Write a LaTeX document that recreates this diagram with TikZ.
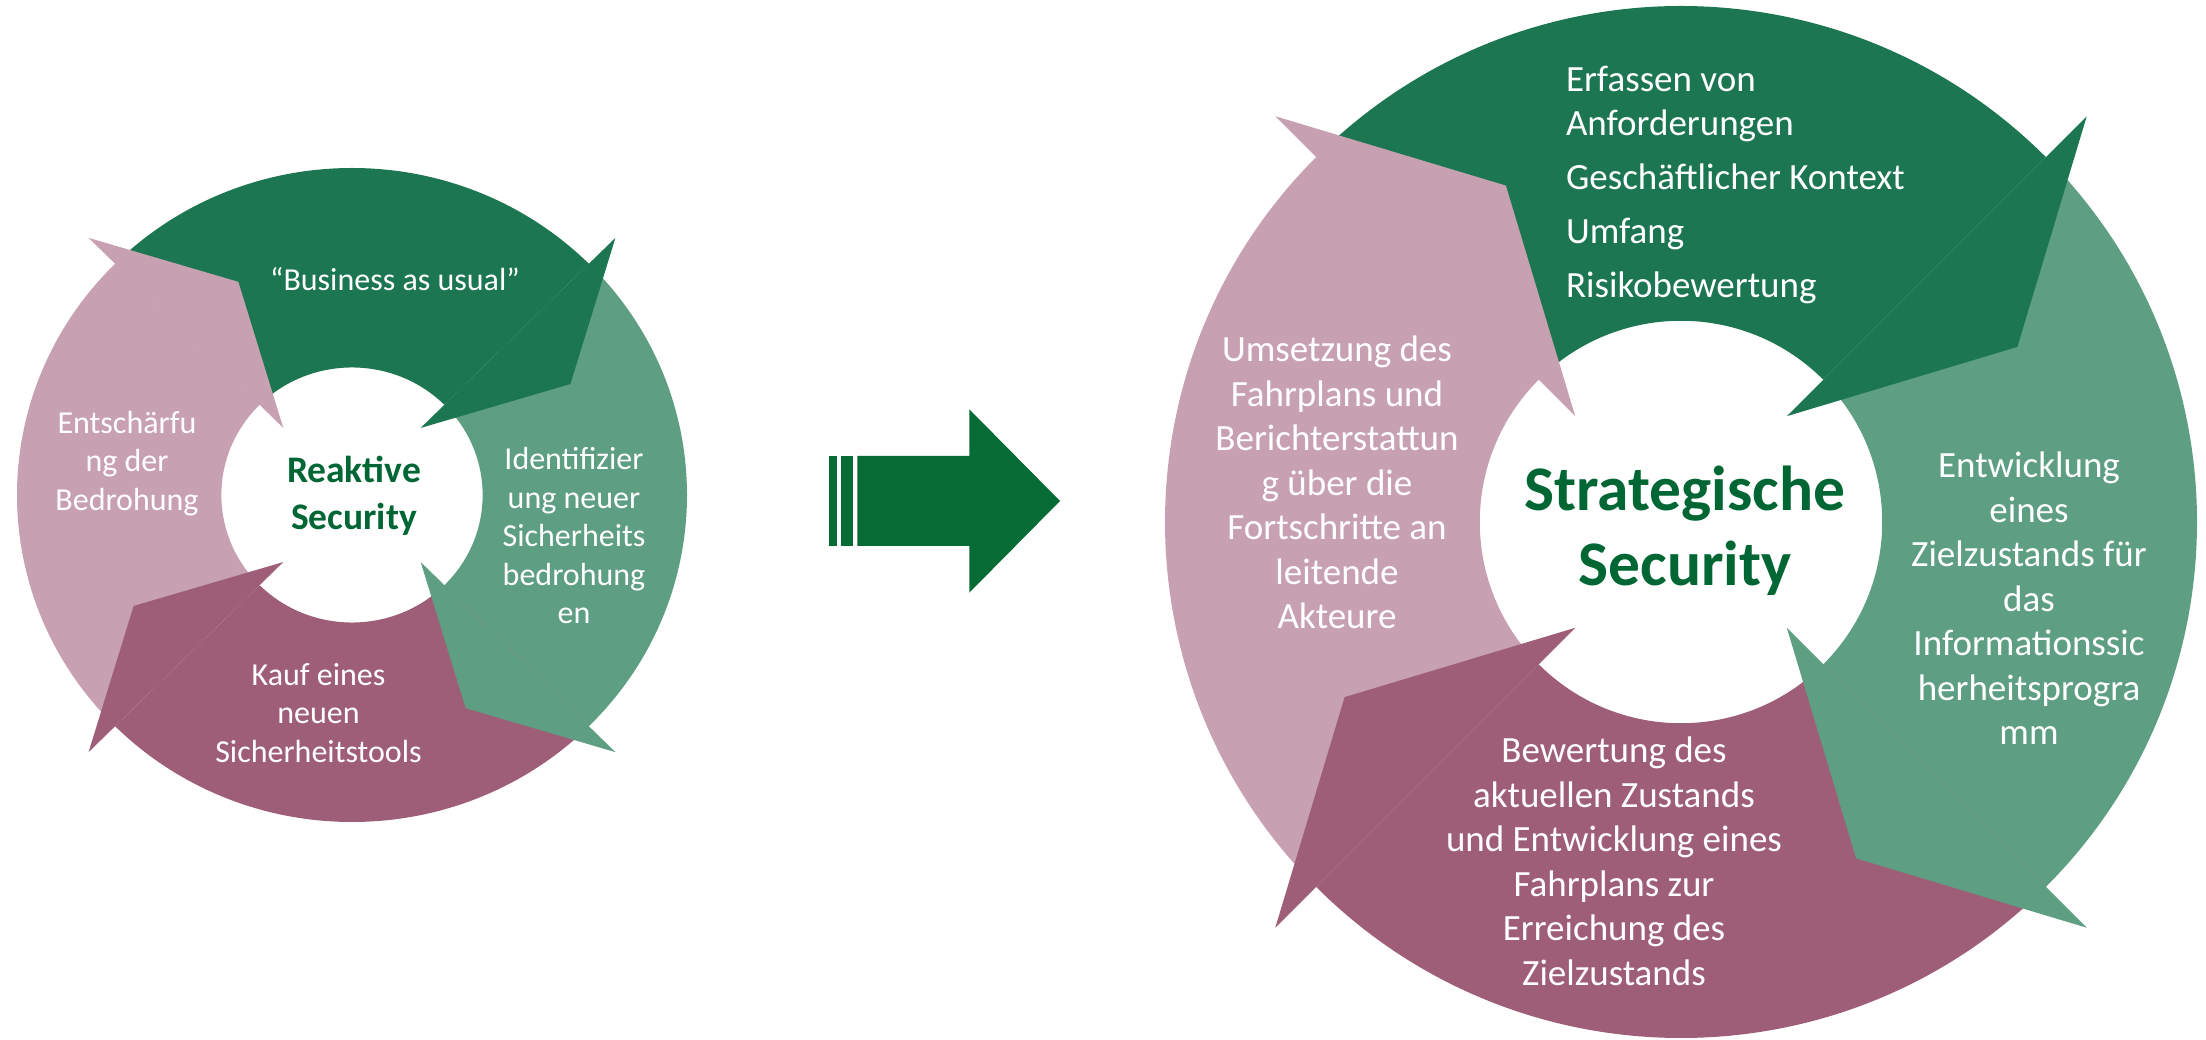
\documentclass[tikz,border=0pt]{standalone}
\usepackage{fontspec}
\setmainfont{Carlito}
\definecolor{cDark}{RGB}{28,118,81}
\definecolor{cLight}{RGB}{94,158,130}
\definecolor{cMauve}{RGB}{158,94,119}
\definecolor{cPink}{RGB}{199,161,178}
\definecolor{cTitle}{RGB}{0,102,51}
\definecolor{cArrow}{RGB}{6,107,53}
\newcommand{\cyclering}[4]{%
 \begin{scope}[shift={(#1,#2)}, xscale=#3, yscale=#4]
  % ring bodies
  \fill[cDark] (135:1) arc[start angle=135,end angle=45,radius=1pt] -- (45:0.39) arc[start angle=45,end angle=135,radius=0.39pt] -- cycle;
  \fill[cLight] (45:1) arc[start angle=45,end angle=-45,radius=1pt] -- (-45:0.39) arc[start angle=-45,end angle=45,radius=0.39pt] -- cycle;
  \fill[cMauve] (-45:1) arc[start angle=-45,end angle=-135,radius=1pt] -- (-135:0.39) arc[start angle=-135,end angle=-45,radius=0.39pt] -- cycle;
  \fill[cPink] (-135:1) arc[start angle=-135,end angle=-225,radius=1pt] -- (-225:0.39) arc[start angle=-225,end angle=-135,radius=0.39pt] -- cycle;
  % arrow heads
  \fill[cDark] (45:1.112) -- (27.5:0.735) -- (45:0.29) -- cycle;
  \fill[cLight] (-45:1.112) -- (-62.5:0.735) -- (-45:0.29) -- cycle;
  \fill[cMauve] (-135:1.112) -- (-152.5:0.735) -- (-135:0.29) -- cycle;
  \fill[cPink] (135:1.112) -- (117.5:0.735) -- (135:0.29) -- cycle;
 \end{scope}}
\begin{document}
\begin{tikzpicture}[x=1pt,y=1pt,
  labL/.style={text=white, inner sep=0pt, outer sep=0pt, align=center, font=\fontsize{32}{38.4}\selectfont},
  labR/.style={text=white, inner sep=0pt, outer sep=0pt, align=center, font=\fontsize{37}{44.5}\selectfont},
  title/.style={text=cTitle, inner sep=0pt, outer sep=0pt, align=center}]
\useasboundingbox (0,0) rectangle (2206,1039);
\fill[white] (0,0) rectangle (2206,1039);

% left cycle
\cyclering{352}{544}{335}{327}
% right cycle
\cyclering{1681}{517}{516}{516}

% middle arrow
\fill[cArrow] (829.3,583) rectangle (836.7,493);
\fill[cArrow] (840.7,583) rectangle (853.3,493);
\fill[cArrow] (857.3,583) -- (969.3,583) -- (969.3,629.7) -- (1060,538) -- (969.3,446.3) -- (969.3,493) -- (857.3,493) -- cycle;

% left labels
\node[labL, anchor=base] (biz) at (395,748) {“Business as usual”};
\node[labL, anchor=north] (ents) at (127,632.4) {\strut Entschärfu\\\strut ng der\\\strut Bedrohung};
\node[labL, anchor=north] (ident) at (574,595.9) {\strut Identifizier\\\strut ung neuer\\\strut Sicherheits\\\strut bedrohung\\\strut en};
\node[labL, anchor=north] (kauf) at (318.5,380.4) {\strut Kauf eines\\\strut neuen\\\strut Sicherheitstools};
\node[title, anchor=north, font=\fontsize{37.5}{46.5}\selectfont\bfseries] (reak) at (354,589) {\strut Reaktive\\\strut Security};

% right labels
\node[labR, align=left, anchor=north west, font=\fontsize{37}{44}\selectfont] (req) at (1566,977.8) {\strut Erfassen von\\\strut Anforderungen\\[9.7pt]\strut Geschäftlicher Kontext\\[9.7pt]\strut Umfang\\[9.7pt]\strut Risikobewertung};
\node[labR, anchor=north] (ums) at (1337,708.45) {\strut Umsetzung des\\\strut Fahrplans und\\\strut Berichterstattun\\\strut g über die\\\strut Fortschritte an\\\strut leitende\\\strut Akteure};
\node[labR, anchor=north] (entw) at (2029,592.15) {\strut Entwicklung\\\strut eines\\\strut Zielzustands für\\\strut das\\\strut Informationssic\\\strut herheitsprogra\\\strut mm};
\node[labR, anchor=north] (bew) at (1614,307.65) {\strut Bewertung des\\\strut aktuellen Zustands\\\strut und Entwicklung eines\\\strut Fahrplans zur\\\strut Erreichung des\\\strut Zielzustands};
\node[title, anchor=north, font=\fontsize{63.5}{74.5}\selectfont\bfseries] (strat) at (1685,580.5) {\strut Strategische\\\strut Security};
\end{tikzpicture}
\end{document}
